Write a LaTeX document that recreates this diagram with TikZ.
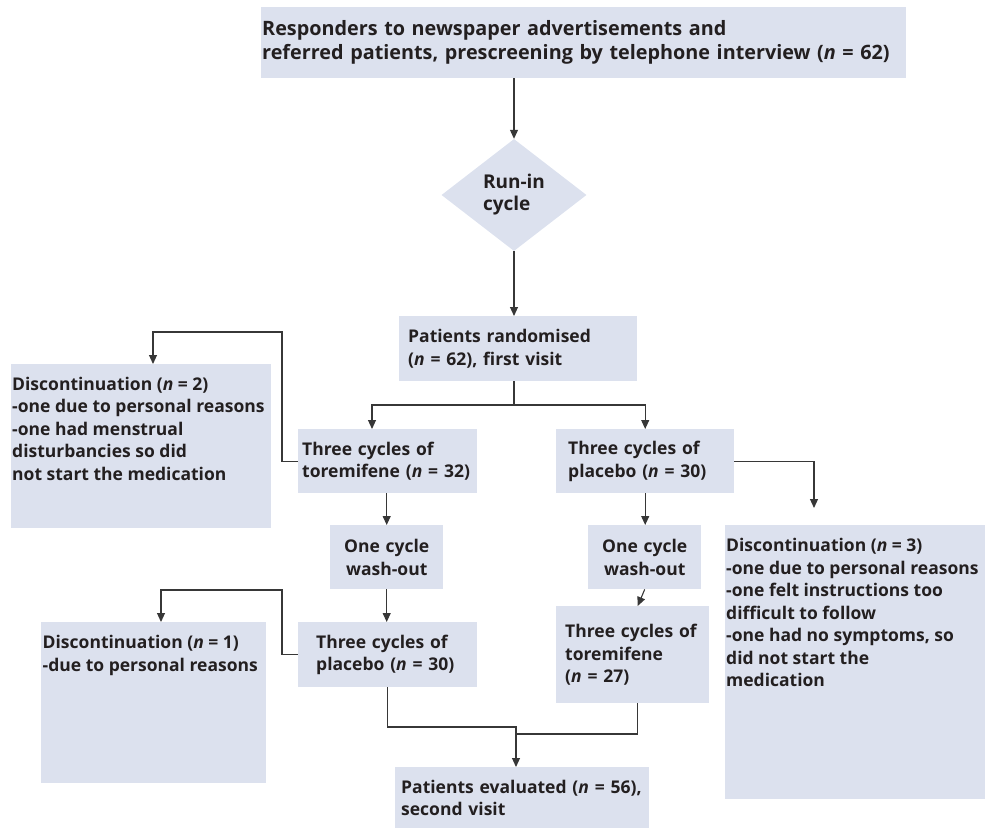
\documentclass[tikz,border=0pt]{standalone}
\usepackage{fontspec}
\setmainfont{Open Sans}
\usepackage{tikz}
\usetikzlibrary{shapes.geometric,arrows.meta,calc}

\definecolor{boxblue}{RGB}{220,225,238}
\definecolor{inkdark}{RGB}{35,31,32}
\definecolor{linegray}{RGB}{55,55,55}

\tikzset{
  box/.style={fill=boxblue, text=inkdark, anchor=north west, inner ysep=0pt,
    align=left, font=\bfseries\fontsize{17.5}{22.5}\selectfont},
  washbox/.style={box, align=center, inner xsep=0pt, text width=113pt,
    minimum width=113pt, minimum height=64pt},
  discbox/.style={box, inner ysep=13pt},
  conn/.style={draw=linegray, line width=1.1pt},
  arr/.style={conn, -{Triangle[length=9pt,width=8pt]}}
}

\begin{document}
\begin{tikzpicture}[x=1pt,y=-1pt]
\useasboundingbox (0,0) rectangle (985,829);

% boxes
\node[box, inner xsep=1pt, text width=643pt, minimum height=71pt,
  font=\bfseries\fontsize{19.8}{24}\selectfont] (top) at (261,7)
  {Responders to newspaper advertisements and\\referred patients, prescreening by telephone interview (\textit{n} = 62)};
\node[diamond, fill=boxblue, text=inkdark, align=left, inner sep=0pt,
  minimum width=145pt, minimum height=112pt,
  font=\bfseries\fontsize{19}{22}\selectfont] (run) at (514,195) {Run-in\\cycle};
\node[box, inner xsep=9pt, text width=220pt, minimum height=65pt] (rand) at (399,316)
  {Patients randomised\\(\textit{n} = 62), first visit};
\node[box, inner xsep=4pt, text width=171pt, minimum height=64pt] (torL) at (298,429)
  {Three cycles of\\toremifene (\textit{n} = 32)};
\node[box, inner xsep=12pt, text width=154pt, minimum height=64pt] (plaR) at (556,429)
  {Three cycles of\\placebo (\textit{n} = 30)};
\node[washbox] (washL) at (330,525) {One cycle\\wash-out};
\node[washbox] (washR) at (588,525) {One cycle\\wash-out};
\node[box, inner xsep=18pt, text width=143pt, minimum height=65pt] (plaL) at (298,622)
  {Three cycles of\\placebo (\textit{n} = 30)};
\node[box, inner xsep=9pt, text width=135pt, minimum height=97pt] (torR) at (556,606)
  {Three cycles of\\toremifene\\(\textit{n} = 27)};
\node[box, inner xsep=6pt, text width=242pt, minimum height=61pt] (eval) at (395,767)
  {Patients evaluated (\textit{n} = 56),\\second visit};

% discontinuations
\node[discbox, inner xsep=1pt] (disc2) at (11,364)
  {\parbox[t][138pt][t]{258pt}{Discontinuation (\textit{n} = 2)\\-one due to personal reasons\\-one had menstrual\\disturbancies so did\\not start the medication}};
\node[discbox, inner xsep=1.5pt] (disc1) at (41,622)
  {\parbox[t][135pt][t]{222pt}{Discontinuation (\textit{n} = 1)\\-due to personal reasons}};
\node[discbox, inner xsep=1pt] (disc3) at (725,525)
  {\parbox[t][248pt][t]{258pt}{Discontinuation (\textit{n} = 3)\\-one due to personal reasons\\-one felt instructions too\\difficult to follow\\-one had no symptoms, so\\did not start the\\medication}};

% bends
\coordinate (split) at (514,405);
\coordinate (brL) at (372,405);
\coordinate (d2up) at (282,332);
\coordinate (d2in) at (153,332);
\coordinate (d1up) at (282,590);
\coordinate (d1in) at (161,590);
\coordinate (d3tip) at (814,508);
\coordinate (merge) at (516,727);
\coordinate (mergeR) at (516,734);

% connectors
\draw[arr] (run |- top.south) -- (run.north);
\draw[arr] (run.south) -- (run.south |- rand.north);
\draw[arr] (split |- rand.south) -- (split) -| (plaR.north);
\draw[arr] (split) -- (brL) -- (brL |- torL.north);
\draw[arr] (torL.west) -| (d2up) -- (d2in) -- (d2in |- disc2.north);
\draw[arr] (plaR.east) -| (d3tip);
\draw[arr] (washL |- torL.south) -- (washL.north);
\draw[arr] (washL.south) -- (washL.south |- plaL.north);
\draw[arr] (plaR.south) -- (plaR.south |- washR.north);
\draw[arr] (washR.south) -- ($(torR.north)+(5,0)$);
\draw[arr] (plaL.west) -| (d1up) -- (d1in) -- (d1in |- disc1.north);
\draw[conn] ($(torR.south)+(5,0)$) |- (mergeR);
\draw[arr] (plaL.south) |- (merge) -- (merge |- eval.north);
\end{tikzpicture}
\end{document}
